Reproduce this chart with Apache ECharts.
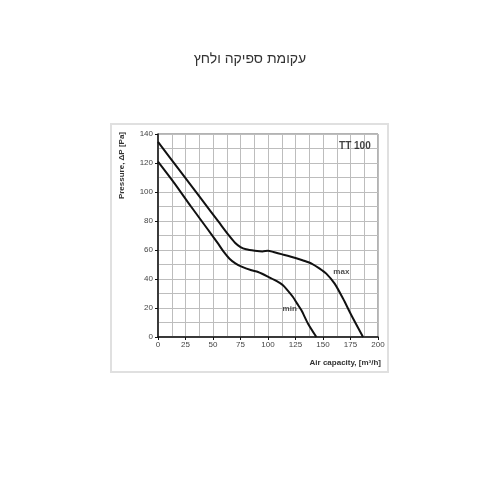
<!DOCTYPE html>
<html>
<head>
<meta charset="utf-8">
<title>עקומת ספיקה ולחץ</title>
<script src="https://cdn.jsdelivr.net/npm/echarts@6/dist/echarts.min.js"></script>
<style>
  html, body { margin: 0; padding: 0; background: #fff; }
  #chart { width: 500px; height: 500px; }
</style>
</head>
<body>
<div id="chart"></div>
<script>
// curve points: [air capacity m3/h, pressure Pa]
var maxCurve = [
  [0, 134.5], [20, 114.5], [40, 94.5], [55, 79.5], [65, 69.5], [70, 65], [75, 62],
  [80, 60.5], [88, 59.5], [95, 59], [100, 59.5], [105, 58.6], [113, 57], [125, 54.5],
  [132, 52.8], [140, 50.5], [147, 47.2], [153, 43.7], [160.6, 36.8], [168.2, 26.5],
  [175.8, 15], [186.4, 0]
];
var minCurve = [
  [0, 121], [15, 106], [30, 90], [45, 74.5], [55, 64], [60, 58.5], [65, 54], [70, 51],
  [76, 48.5], [85, 46], [91, 44.8], [101.5, 41], [108, 38.5], [113.6, 35.7], [118, 32],
  [122.7, 27.6], [126.5, 23], [130.4, 18.4], [136.4, 9.2], [144, 0]
];
// text labels on the plot: [x, y, text]
var curveLabels = [[166.7, 44.8, 'max'], [119.7, 19.6, 'min']];
var modelLabel = [[179, 131.5, 'TT 100']];

var titleText = 'עקומת ספיקה ולחץ';
var xName = 'Air capacity, [m³/h]';
var yName = 'Pressure, ΔP [Pa]';

var font = 'Liberation Sans, Arial, sans-serif';
var gridLine = { show: true, lineStyle: { color: '#bdbdbd', width: 1 } };

var chart = echarts.init(document.getElementById('chart'));
chart.setOption({
  animation: false,
  textStyle: { fontFamily: font },
  title: {
    text: titleText,
    left: 'center',
    top: 47,
    textStyle: { fontSize: 14, fontWeight: 'normal', color: '#333', fontFamily: font }
  },
  graphic: [
    {
      type: 'rect', z: -10,
      shape: { x: 111, y: 124, width: 277, height: 248 },
      style: { fill: '#fff', stroke: '#e0e0e0', lineWidth: 2 }
    },
    {
      type: 'text', x: 122, y: 132, rotation: Math.PI / 2,
      style: { text: yName, fontSize: 8, fontWeight: 'bold', fill: '#333',
               fontFamily: font, align: 'right', verticalAlign: 'middle' }
    }
  ],
  grid: {
    left: 158, top: 134, right: 122, bottom: 163,
    show: true, borderColor: '#666', borderWidth: 1
  },
  xAxis: {
    type: 'value', min: 0, max: 200, interval: 25,
    name: xName, nameLocation: 'end', nameGap: 3,
    nameTextStyle: { fontSize: 8, fontWeight: 'bold', color: '#333', align: 'right',
                     verticalAlign: 'top', padding: [22, 0, 0, 0] },
    axisLine: { show: true, lineStyle: { color: '#111', width: 1.5 } },
    axisTick: { show: true, length: 3, lineStyle: { color: '#111' } },
    axisLabel: { fontSize: 8, color: '#444', margin: 4 },
    splitLine: gridLine,
    minorTick: { show: false, splitNumber: 2 },
    minorSplitLine: gridLine
  },
  yAxis: {
    type: 'value', min: 0, max: 140, interval: 20,
    axisLine: { show: true, lineStyle: { color: '#111', width: 1.5 } },
    axisTick: { show: true, length: 3, lineStyle: { color: '#111' } },
    axisLabel: { fontSize: 8, color: '#444', margin: 5 },
    splitLine: gridLine,
    minorTick: { show: false, splitNumber: 2 },
    minorSplitLine: gridLine
  },
  series: [
    {
      name: 'max', type: 'line', data: maxCurve, smooth: 0.25,
      showSymbol: false, lineStyle: { color: '#111', width: 2 }, z: 5
    },
    {
      name: 'min', type: 'line', data: minCurve, smooth: 0.25,
      showSymbol: false, lineStyle: { color: '#111', width: 2 }, z: 5
    },
    {
      type: 'scatter', data: curveLabels, symbolSize: 0, silent: true,
      label: { show: true, position: 'inside', formatter: function (p) { return p.value[2]; },
               fontSize: 8, color: '#222', fontWeight: 'bold' }
    },
    {
      type: 'scatter', data: modelLabel, symbolSize: 0, silent: true,
      label: { show: true, position: 'inside', formatter: function (p) { return p.value[2]; },
               fontSize: 10, color: '#111', fontWeight: 'bold' }
    }
  ]
});
</script>
</body>
</html>
